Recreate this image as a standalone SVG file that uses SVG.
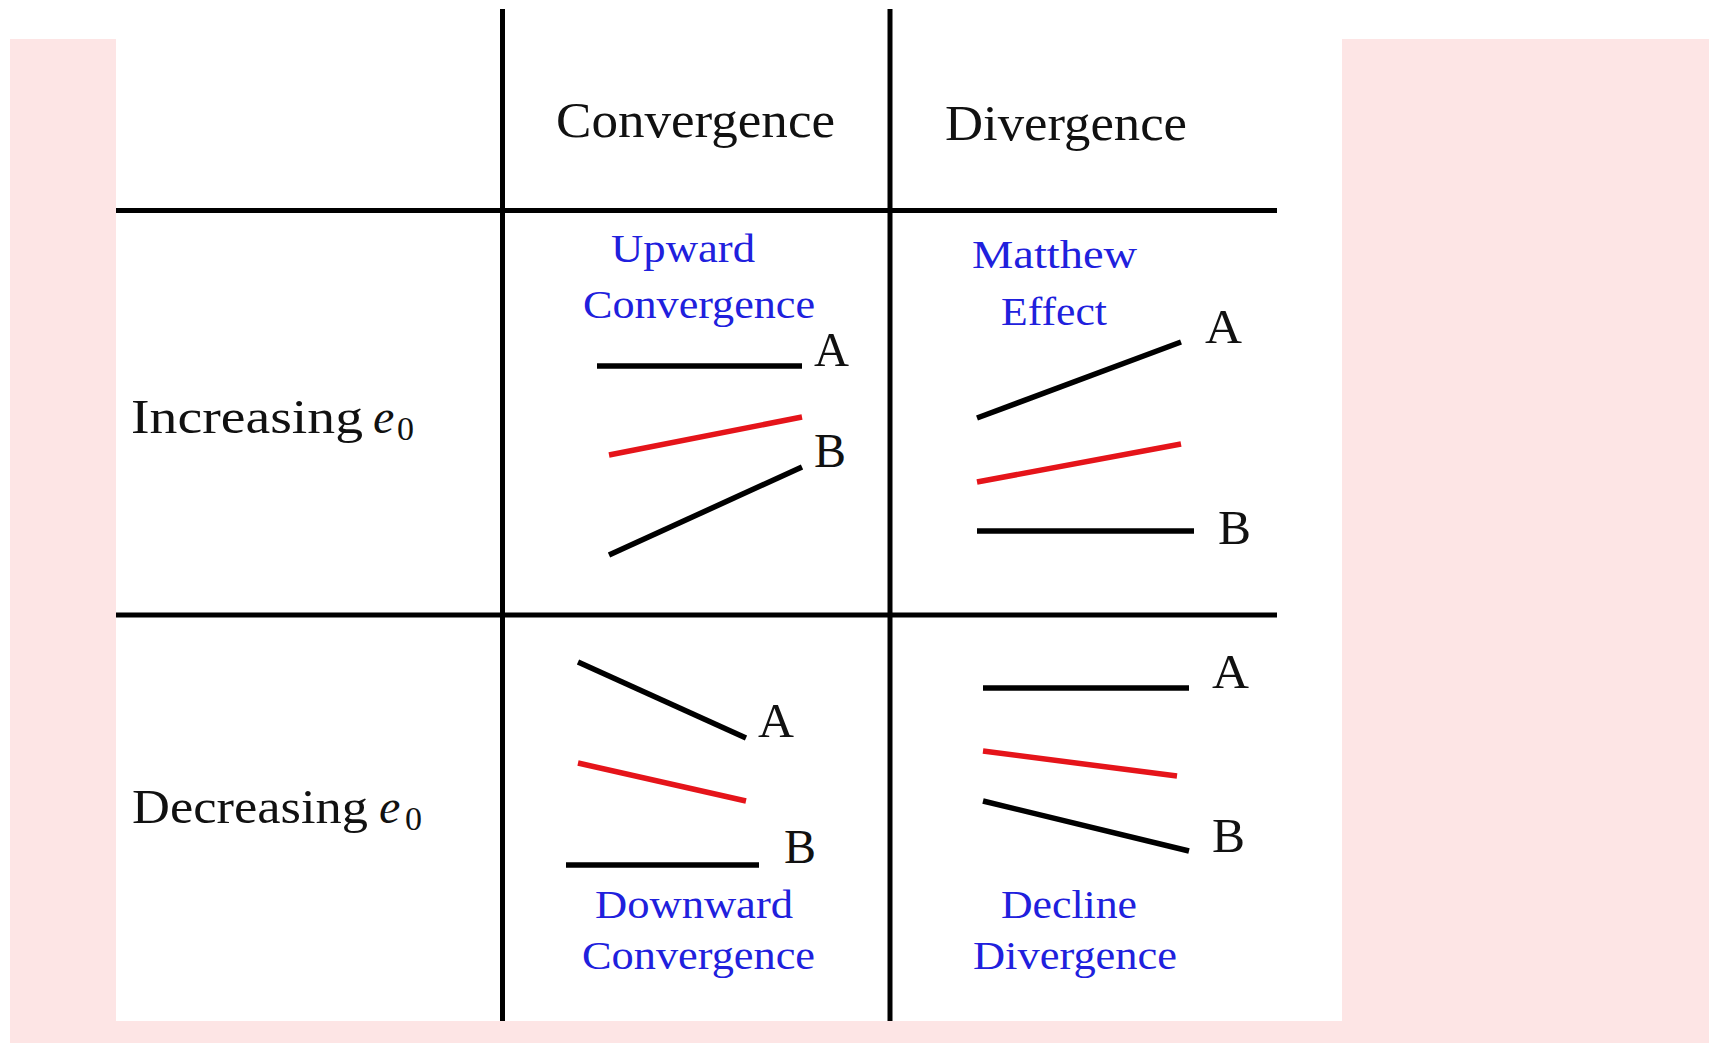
<svg xmlns="http://www.w3.org/2000/svg" width="1709" height="1043" viewBox="0 0 1709 1043">
<style>
.grid{stroke:#000;stroke-width:5;fill:none}
.blk{stroke:#000;stroke-width:5.5;fill:none}
.red{stroke:#e5141a;stroke-width:5.5;fill:none}
.t{font-family:"Liberation Serif","Times New Roman",serif;fill:#111}
.hd{font-size:50px}
.lb{font-size:48px}
.ab{font-size:48px}
.bl{font-family:"Liberation Serif","Times New Roman",serif;font-size:40px;fill:#2020dd}
</style>
<rect x="0" y="0" width="1709" height="1043" fill="#ffffff"/>
<rect x="10" y="39" width="1699" height="1004" fill="#fde5e5"/>
<rect x="116" y="0" width="1226" height="1021" fill="#ffffff"/>
<g id="grid">
<line class="grid" x1="502.5" y1="9" x2="502.5" y2="1021"/>
<line class="grid" x1="890" y1="9" x2="890" y2="1021"/>
<line class="grid" x1="116" y1="210.5" x2="1277" y2="210.5"/>
<line class="grid" x1="116" y1="615" x2="1277" y2="615"/>
</g>
<g id="header-convergence"><text class="t hd" x="556" y="137" textLength="279" lengthAdjust="spacingAndGlyphs">Convergence</text></g>
<g id="header-divergence"><text class="t hd" x="945" y="140" textLength="242" lengthAdjust="spacingAndGlyphs">Divergence</text></g>
<g id="row-increasing"><text class="t lb" x="131" y="433"><tspan textLength="232" lengthAdjust="spacingAndGlyphs">Increasing</tspan><tspan x="373" font-style="italic">e</tspan><tspan x="397" y="440" font-size="34">0</tspan></text></g>
<g id="row-decreasing"><text class="t lb" x="132" y="823"><tspan textLength="236" lengthAdjust="spacingAndGlyphs">Decreasing</tspan><tspan x="379" font-style="italic">e</tspan><tspan x="405" y="830" font-size="34">0</tspan></text></g>
<g id="cell-upward-convergence">
<text class="bl" x="611" y="262" textLength="144" lengthAdjust="spacingAndGlyphs">Upward</text>
<text class="bl" x="583" y="318" textLength="232" lengthAdjust="spacingAndGlyphs">Convergence</text>
<line class="blk" x1="597" y1="366" x2="802" y2="366"/>
<line class="red" x1="609" y1="455" x2="802" y2="417"/>
<line class="blk" x1="609" y1="555" x2="802" y2="467"/>
<text class="t ab" x="814" y="366" textLength="35" lengthAdjust="spacingAndGlyphs">A</text>
<text class="t ab" x="814" y="467" textLength="32" lengthAdjust="spacingAndGlyphs">B</text>
</g>
<g id="cell-matthew-effect">
<text class="bl" x="972" y="268" textLength="165" lengthAdjust="spacingAndGlyphs">Matthew</text>
<text class="bl" x="1001" y="325" textLength="106" lengthAdjust="spacingAndGlyphs">Effect</text>
<line class="blk" x1="977" y1="418" x2="1181" y2="342"/>
<line class="red" x1="977" y1="482" x2="1181" y2="444"/>
<line class="blk" x1="977" y1="531" x2="1194" y2="531"/>
<text class="t ab" x="1205" y="343" textLength="37" lengthAdjust="spacingAndGlyphs">A</text>
<text class="t ab" x="1218" y="544" textLength="33" lengthAdjust="spacingAndGlyphs">B</text>
</g>
<g id="cell-downward-convergence">
<line class="blk" x1="578" y1="662" x2="746" y2="738"/>
<line class="red" x1="578" y1="763" x2="746" y2="801"/>
<line class="blk" x1="566" y1="865" x2="759" y2="865"/>
<text class="t ab" x="758" y="737" textLength="36" lengthAdjust="spacingAndGlyphs">A</text>
<text class="t ab" x="784" y="863" textLength="32" lengthAdjust="spacingAndGlyphs">B</text>
<text class="bl" x="595" y="918" textLength="198" lengthAdjust="spacingAndGlyphs">Downward</text>
<text class="bl" x="582" y="969" textLength="233" lengthAdjust="spacingAndGlyphs">Convergence</text>
</g>
<g id="cell-decline-divergence">
<line class="blk" x1="983" y1="688" x2="1189" y2="688"/>
<line class="red" x1="983" y1="751" x2="1177" y2="776"/>
<line class="blk" x1="983" y1="801" x2="1189" y2="851"/>
<text class="t ab" x="1212" y="688" textLength="37" lengthAdjust="spacingAndGlyphs">A</text>
<text class="t ab" x="1212" y="852" textLength="33" lengthAdjust="spacingAndGlyphs">B</text>
<text class="bl" x="1001" y="918" textLength="136" lengthAdjust="spacingAndGlyphs">Decline</text>
<text class="bl" x="973" y="969" textLength="204" lengthAdjust="spacingAndGlyphs">Divergence</text>
</g>
</svg>
